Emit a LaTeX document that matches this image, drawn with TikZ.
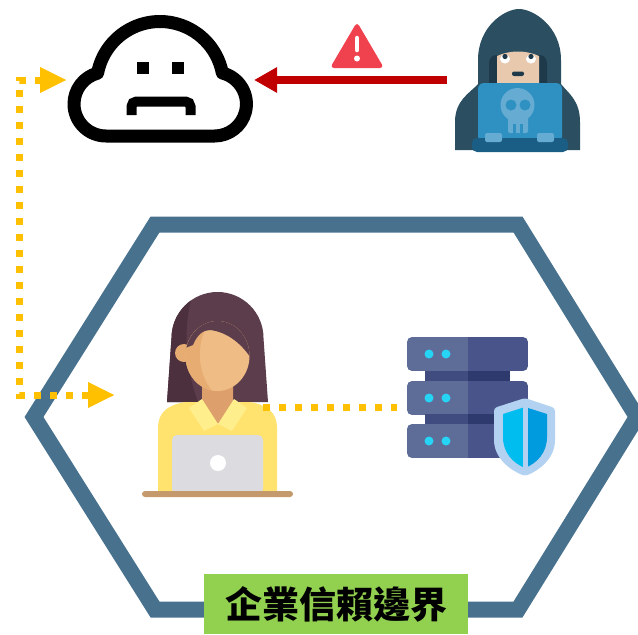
\documentclass[tikz,border=0pt]{standalone}
\usepackage{fontspec}
\newfontfamily\cjk{Noto Sans CJK TC}
\usetikzlibrary{arrows.meta}

\definecolor{hexblue}{HTML}{47718D}
\definecolor{labelgreen}{HTML}{92D050}
\definecolor{alertred}{HTML}{C00000}
\definecolor{warnred}{HTML}{F0414F}
\definecolor{flowyellow}{HTML}{FFC000}
% hacker
\definecolor{hood}{HTML}{2B4F61}
\definecolor{hoodin}{HTML}{1E3A4A}
\definecolor{hskin}{HTML}{E8C9AE}
\definecolor{screen}{HTML}{2F90C2}
\definecolor{skull}{HTML}{66ABD1}
\definecolor{kbase}{HTML}{1B5E85}
% user
\definecolor{hair}{HTML}{5C3D4B}
\definecolor{hairdk}{HTML}{4C303E}
\definecolor{skin}{HTML}{F0BC85}
\definecolor{skinsh}{HTML}{E6AC72}
\definecolor{neck}{HTML}{DDA06C}
\definecolor{shirt}{HTML}{FFE36E}
\definecolor{collar}{HTML}{FFEE8C}
\definecolor{laptop}{HTML}{DCDCE0}
\definecolor{desk}{HTML}{C49A6C}
% server
\definecolor{srvlight}{HTML}{5E6C98}
\definecolor{srvdark}{HTML}{48548A}
\definecolor{srvlink}{HTML}{404C80}
\definecolor{srvlinkdk}{HTML}{2E3A6E}
\definecolor{led}{HTML}{26D4F6}
\definecolor{shieldout}{HTML}{B3D1F0}
\definecolor{shieldl}{HTML}{00BDF0}
\definecolor{shieldr}{HTML}{009BDF}

\tikzset{
  anchorbox/.style={inner sep=0pt, outer sep=0pt},
  hexline/.style={draw=hexblue, line width=16pt, line join=miter},
  attack/.style={draw=alertred, line width=8pt,
    -{Triangle[length=23pt,width=24pt]}},
  flow/.style={draw=flowyellow, line width=7pt, dash pattern=on 7pt off 9pt},
  flowboth/.style={flow,
    {Triangle[length=27pt,width=24pt]}-{Triangle[length=27pt,width=24pt]}},
  labelbox/.style={fill=labelgreen, inner sep=0pt, minimum width=264pt,
    minimum height=60pt, font=\cjk\bfseries\fontsize{37}{40}\selectfont},
}

\begin{document}
\begin{tikzpicture}[x=1pt,y=-1pt]
\useasboundingbox (0,0) rectangle (638,635);

% trust boundary
\draw[hexline] (34,417) -- (155,224.5) -- (518,224.5) -- (637,417)
  -- (518,609.5) -- (155,609.5) -- cycle;
\node[labelbox] (trust) at (336,604) {企業信賴邊界};

% anchor boxes for the icons
\node[anchorbox, minimum width=187pt, minimum height=128pt] (cloud) at (160.5,80) {};
\node[anchorbox, minimum width=141pt, minimum height=140pt] (hacker) at (517.5,80) {};
\node[anchorbox, minimum width=151pt, minimum height=206pt] (woman) at (217.5,395) {};
\node[anchorbox, minimum width=158pt, minimum height=140pt] (server) at (476,407) {};
\coordinate (womanR) at (263,407);

% ---- cloud service (sad face)
\draw[line width=13pt, line join=round]
  (106,136) arc[start angle=90, end angle=254.8, radius=32]
  arc[start angle=190.8, end angle=349.1, radius=63.5]
  arc[start angle=284.3, end angle=450, radius=32] -- cycle;
\fill (137,62) rectangle (149,74);
\fill (172,62) rectangle (184,74);
\draw[line width=10pt, rounded corners=5pt]
  (131.5,115) -- (131.5,101.5) -- (190.5,101.5) -- (190.5,115);

% ---- warning sign
\fill[warnred, rounded corners=4pt] (357,22) -- (384,68) -- (330,68) -- cycle;
\draw[white, line width=4.5pt, line cap=round] (357,38) -- (357,50);
\fill[white] (357,58.5) circle[radius=3];

% ---- hacker
\fill[hood] (455,150) -- (455,122) .. controls (455,100) and (470,93) .. (478,84)
  -- (478,60) .. controls (478,26) and (505,9) .. (519,9)
  .. controls (533,9) and (561,26) .. (561,60)
  -- (561,84) .. controls (568,93) and (580,100) .. (580,122) -- (580,150) -- cycle;
\fill[hoodin] (489,86) -- (489,64) .. controls (489,58) and (492,55) .. (497,55)
  -- (539,55) .. controls (544,55) and (547,58) .. (547,64) -- (547,86) -- cycle;
\fill[hskin] (497,88) -- (497,56) .. controls (510,50) and (526,50) .. (539,56)
  -- (539,88) -- cycle;
\fill[white] (505,59) ellipse[x radius=5, y radius=4.5];
\fill[white] (531,59) ellipse[x radius=5, y radius=4.5];
\fill[hoodin] (505,56.5) circle[radius=2.6];
\fill[hoodin] (531,56.5) circle[radius=2.6];
\fill[hoodin, rounded corners=2pt] (512,71.5) rectangle (524,76);
\fill[screen, rounded corners=6pt] (478,83) rectangle (562,142);
\fill[skull] (517.5,105) circle[radius=17];
\fill[skull, rounded corners=2pt] (508,108) rectangle (528,133);
\fill[screen] (511,105) circle[radius=5.5];
\fill[screen] (525,105) circle[radius=5.5];
\draw[screen, line width=2.5pt] (514.5,124) -- (514.5,133.5) (521.5,124) -- (521.5,133.5);
\fill[kbase, rounded corners=5pt] (472,138) rectangle (568,152);
\fill[skull, rounded corners=2pt] (485,133) rectangle (502,142);
\fill[skull, rounded corners=2pt] (537,133) rectangle (554,142);

% ---- user at a laptop
\fill[hair] (167,402) -- (171.5,338) arc[start angle=180, end angle=360, radius=46]
  -- (268,402) -- cycle;
\fill[hairdk] (167,402) -- (171.5,338) arc[start angle=180, end angle=235, radius=46]
  .. controls (183,330) and (186,370) .. (198,402) -- cycle;
\fill[shirt] (158,494) -- (158,428) .. controls (158,412) and (168,405) .. (185,402)
  -- (250,402) .. controls (267,405) and (277,412) .. (277,428) -- (277,494) -- cycle;
\fill[neck] (202,385) -- (233,385) -- (233,403) -- (218,424) -- (202,403) -- cycle;
\fill[collar] (189,408) -- (202,399) -- (218,424) -- (204,431) -- cycle;
\fill[collar] (247,408) -- (234,399) -- (218,424) -- (232,431) -- cycle;
\fill[skinsh] (184,353) circle[radius=9];
\fill[skin] (217.5,356) ellipse[x radius=32, y radius=35];
\begin{scope}
  \clip (217.5,356) ellipse[x radius=32, y radius=35];
  \fill[skinsh] (180,330) -- (205,330) .. controls (196,350) and (198,375) .. (215,395)
    -- (180,395) -- cycle;
  \fill[hair] (180,350) -- (193,345) .. controls (197,335) and (203,330) .. (210,330)
    .. controls (228,332) and (243,345) .. (252,360) -- (260,360) -- (260,300)
    -- (180,300) -- cycle;
\end{scope}
\fill[laptop, rounded corners=5pt] (172,435) rectangle (263,494);
\fill[white] (218,463) circle[radius=8];
\fill[desk, rounded corners=3pt] (142,491) rectangle (293,497);

% ---- protected server
\foreach \yy in {337,381,424} {
  \begin{scope}
    \clip[rounded corners=5pt] (407,\yy) rectangle (528,\yy+34);
    \fill[srvlight] (407,\yy) rectangle (468,\yy+34);
    \fill[srvdark] (468,\yy) rectangle (528,\yy+34);
  \end{scope}
  \fill[led] (429,\yy+17) circle[radius=4.5];
  \fill[led] (446,\yy+17) circle[radius=4.5];
}
\foreach \yy in {371,414} {
  \fill[srvlink] (425,\yy) rectangle (468,\yy+10);
  \fill[srvlinkdk] (468,\yy) rectangle (510,\yy+10);
}
\fill[shieldout, rounded corners=3pt] (525,398) -- (555,408) -- (555,437)
  .. controls (555,458) and (540,470) .. (525,476)
  .. controls (510,470) and (494,458) .. (494,437) -- (494,408) -- cycle;
\begin{scope}
  \clip (525,407) -- (547,414) -- (547,437) .. controls (547,453) and (537,463) .. (525,468)
    .. controls (513,463) and (503,453) .. (503,437) -- (503,414) -- cycle;
  \fill[shieldl] (500,400) rectangle (522.5,470);
  \fill[shieldr] (527.5,400) rectangle (550,470);
\end{scope}

% ---- connectors
\draw[attack] (hacker.west) -- (cloud.east);
\draw[flowboth, shorten >=27pt]
  (cloud.west) -- ++(-47.5,0) |- (woman.west);
\draw[flow] (womanR) -- (server.west);

\end{tikzpicture}
\end{document}
